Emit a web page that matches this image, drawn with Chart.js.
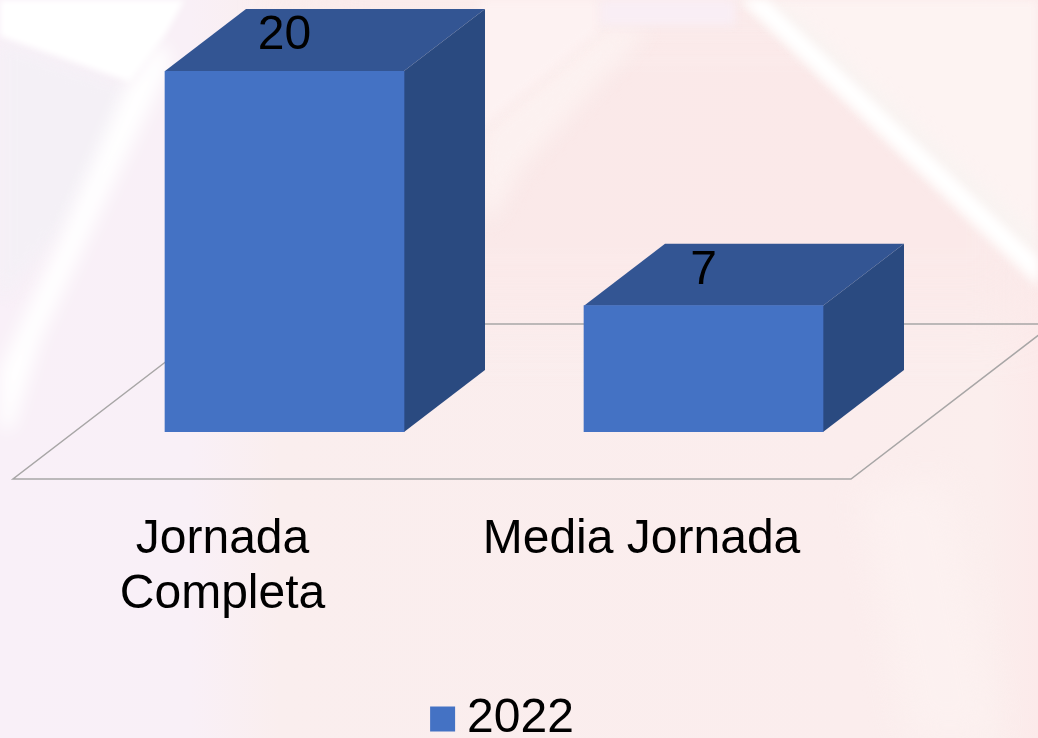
<!DOCTYPE html>
<html>
<head>
<meta charset="utf-8">
<title>Jornada</title>
<script src="https://cdn.jsdelivr.net/npm/chart.js@4/dist/chart.umd.min.js"></script>
<style>
  html, body { margin: 0; padding: 0; width: 1038px; height: 738px; overflow: hidden; }
  body { position: relative; background: linear-gradient(90deg, #f9f0f8 0, #f9f0f7 190px, #faeeee 280px, #fbeded 850px, #fbeeed 990px, #fceaea 1038px); }
  .bg, .bg div { position: absolute; left: 0; top: 0; width: 1038px; height: 738px; }
  #wrap { position: absolute; left: 0; top: 0; width: 1038px; height: 738px; }
</style>
</head>
<body>
<!-- faded photo behind the chart: blur sits on the outer div so it softens the clipped edge -->
<div class="bg" style="filter:blur(30px);opacity:.8"><div style="background:#fbe9e9;clip-path:polygon(300px 0,1038px 0,1038px 320px,300px 320px)"></div></div>
<div class="bg" style="filter:blur(4px)"><div style="background:#fdf3f2;clip-path:polygon(737px 0,1038px 0,1038px 290px)"></div></div>
<div class="bg" style="filter:blur(10px)"><div style="background:#fcf1f0;clip-path:polygon(475px 190px,480px 130px,600px 28px,650px 28px,520px 170px,490px 225px)"></div></div>
<div class="bg" style="filter:blur(5px)"><div style="background:#fdf2f2;clip-path:polygon(480px 0,600px 0,600px 30px,480px 130px)"></div></div>
<div class="bg" style="filter:blur(5px)"><div style="background:#f9eef5;clip-path:polygon(600px 0,735px 0,735px 25px,600px 25px)"></div></div>
<div class="bg" style="filter:blur(8px)"><div style="background:#f4f0f6;clip-path:polygon(0 40px,130px 85px,120px 130px,65px 230px,0 300px)"></div></div>
<div class="bg" style="filter:blur(3px)"><div style="background:#fff;clip-path:polygon(0 -10px,190px -10px,165px 35px,130px 82px,0 36px)"></div></div>
<div class="bg" style="filter:blur(9px)"><div style="background:#fff;clip-path:polygon(160px 40px,172px 60px,110px 190px,40px 340px,12px 430px,-10px 430px,0 370px,60px 240px,125px 90px)"></div></div>
<div class="bg" style="filter:blur(8px);opacity:.6"><div style="background:#f6f4f1;clip-path:polygon(752px 0,790px 10px,1038px 235px,1038px 262px)"></div></div>
<div class="bg" style="filter:blur(5px)"><div style="background:#fff;clip-path:polygon(732px -10px,756px -10px,1048px 268px,1048px 292px)"></div></div>
<div class="bg" style="filter:blur(16px);opacity:.6"><div style="background:#fdf3f2;clip-path:polygon(860px 490px,950px 480px,1000px 748px,910px 748px)"></div></div>
<div id="wrap"><canvas id="jornadaChart" width="1038" height="738"></canvas></div>
<script>
var categories = [['Jornada', 'Completa'], 'Media Jornada'];
var seriesName = '2022';
var values2022 = [20, 7];

var frontColor = '#4472c4';
var topColor = '#335593';
var sideColor = '#2a4a80';
var depthX = 81;
var depthY = 62;

// floor, side and top faces hang off the bars the library has laid out
var box3d = {
  id: 'box3d',
  afterLayout: function(chart) {
    var legend = chart.legend;
    var h = legend.bottom - legend.top;
    var w = legend.right - legend.left;
    legend.left = 508 - w / 2;
    legend.right = legend.left + w;
    legend.top = 724 - h / 2;
    legend.bottom = legend.top + h;
  },
  beforeDatasetsDraw: function(chart) {
    var ctx = chart.ctx;
    var area = chart.chartArea;
    var floorY = area.bottom + 47;
    var x0 = area.left - 62;
    var x1 = area.right - 62;
    ctx.save();
    ctx.strokeStyle = '#a8a6a6';
    ctx.lineWidth = 1.5;
    ctx.beginPath();
    ctx.moveTo(area.left + 140, floorY - 155);
    ctx.lineTo(x0, floorY);
    ctx.lineTo(x1, floorY);
    ctx.lineTo(x1 + 202, floorY - 155);
    ctx.lineTo(area.left + 140, floorY - 155);
    ctx.stroke();
    chart.getDatasetMeta(0).data.forEach(function(bar) {
      var l = bar.x - bar.width / 2;
      var r = bar.x + bar.width / 2;
      ctx.fillStyle = topColor;
      ctx.beginPath();
      ctx.moveTo(l, bar.y);
      ctx.lineTo(l + depthX, bar.y - depthY);
      ctx.lineTo(r + depthX, bar.y - depthY);
      ctx.lineTo(r, bar.y);
      ctx.closePath();
      ctx.fill();
      ctx.fillStyle = sideColor;
      ctx.beginPath();
      ctx.moveTo(r, bar.y);
      ctx.lineTo(r + depthX, bar.y - depthY);
      ctx.lineTo(r + depthX, bar.base - depthY);
      ctx.lineTo(r, bar.base);
      ctx.closePath();
      ctx.fill();
    });
    ctx.restore();
  },
  afterDatasetsDraw: function(chart) {
    var ctx = chart.ctx;
    ctx.save();
    ctx.fillStyle = '#000';
    ctx.font = '48px "Liberation Sans"';
    ctx.textAlign = 'center';
    ctx.textBaseline = 'middle';
    chart.getDatasetMeta(0).data.forEach(function(bar, i) {
      ctx.fillText(values2022[i], bar.x, bar.y - 35);
    });
    ctx.restore();
  }
};

new Chart(document.getElementById('jornadaChart'), {
  type: 'bar',
  data: {
    labels: categories,
    datasets: [{
      label: seriesName,
      data: values2022,
      backgroundColor: frontColor,
      barThickness: 239
    }]
  },
  options: {
    responsive: false,
    animation: false,
    layout: { padding: { left: 75, right: 125, top: 71, bottom: 0 } },
    plugins: {
      tooltip: { enabled: false },
      legend: {
        position: 'bottom',
        labels: {
          color: '#000',
          font: { family: '"Liberation Sans"', size: 48 },
          usePointStyle: true,
          pointStyle: 'rect',
          boxWidth: 1,
          boxHeight: 25,
          padding: 0
        }
      }
    },
    scales: {
      x: {
        grid: { display: false },
        border: { display: false },
        afterFit: function(scale) {
          scale.height = 306 - (scale.chart.legend ? scale.chart.legend.height : 0);
        },
        ticks: {
          color: '#000',
          font: { family: '"Liberation Sans"', size: 48, lineHeight: 55 / 48 },
          labelOffset: -62,
          padding: 72,
          maxRotation: 0,
          autoSkip: false
        }
      },
      y: { display: false, min: 0, max: 20 }
    }
  },
  plugins: [box3d]
});
</script>
</body>
</html>
